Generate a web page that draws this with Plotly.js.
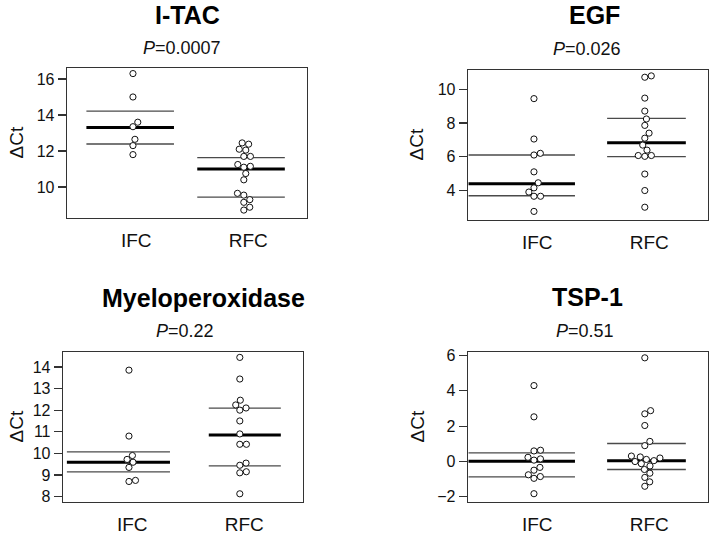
<!DOCTYPE html>
<html>
<head>
<meta charset="utf-8">
<script src="https://cdn.plot.ly/plotly-3.0.1.min.js"></script>
<style>html,body{margin:0;padding:0;background:#fff;}#chart{width:709px;height:536px;}</style>
</head>
<body>
<div id="chart"></div>
<script>
// ---------- data ----------
const categories = ['IFC', 'RFC'];
const panelTitles = ['I-TAC', 'EGF', 'Myeloperoxidase', 'TSP-1'];
const pValues = ['0.0007', '0.026', '0.22', '0.51'];
const yAxisLabel = '\u0394Ct';

const itacIFC = [16.3, 15.0, 13.6, 13.35, 12.65, 12.3, 11.8];
const itacRFC = [12.45, 12.38, 12.1, 12.05, 11.7, 11.7, 11.25, 11.15, 11.1, 10.75, 10.4, 9.65, 9.55, 9.3, 9.15, 8.88, 8.72];
const itacMedian = [13.3, 11.0];
const itacLower = [12.39, 9.44];
const itacUpper = [14.22, 11.63];
const itacTicks = [10, 12, 14, 16];

const egfIFC = [9.45, 7.05, 6.2, 6.1, 5.1, 4.45, 4.15, 3.9, 3.65, 3.65, 2.75];
const egfRFC = [10.8, 10.72, 9.48, 8.71, 8.24, 7.86, 7.4, 7.1, 6.69, 6.39, 6.07, 6.02, 6.07, 4.97, 3.99, 3.0];
const egfMedian = [4.39, 6.83];
const egfLower = [3.68, 6.0];
const egfUpper = [6.1, 8.28];
const egfTicks = [4, 6, 8, 10];

const mpoIFC = [13.85, 10.8, 9.9, 9.72, 9.59, 9.35, 8.75, 8.7];
const mpoRFC = [14.44, 13.44, 12.46, 12.24, 12.1, 12.0, 11.5, 10.9, 10.42, 10.42, 9.55, 9.45, 9.15, 9.1, 8.13];
const mpoMedian = [9.59, 10.85];
const mpoLower = [9.14, 9.42];
const mpoUpper = [10.07, 12.09];
const mpoTicks = [8, 9, 10, 11, 12, 13, 14];

const tspIFC = [4.3, 2.53, 0.64, 0.6, 0.24, 0.15, 0.08, -0.33, -0.49, -0.75, -0.85, -0.95, -1.82];
const tspRFC = [5.87, 2.88, 2.7, 2.04, 1.14, 0.9, 0.31, 0.26, 0.2, 0.12, 0.05, 0.0, -0.12, -0.25, -0.45, -0.66, -0.9, -1.15, -1.4];
const tspMedian = [0.02, 0.05];
const tspLower = [-0.87, -0.45];
const tspUpper = [0.49, 1.02];
const tspTicks = [-2, 0, 2, 4, 6];

// ---------- layout config (positions / styles) ----------
const W = 709, H = 536;
const panels = [
  {groups: [itacIFC, itacRFC], med: itacMedian, lo: itacLower, hi: itacUpper, ticks: itacTicks,
   box: [67, 307, 68, 218], yr: [8.28, 16.61], lineLeft: [0.42, 0.42],
   titleXY: [188, 15], pXY: [182, 48], yLabXY: [15.5, 143]},
  {groups: [egfIFC, egfRFC], med: egfMedian, lo: egfLower, hi: egfUpper, ticks: egfTicks,
   box: [468, 708, 70, 220], yr: [2.24, 11.15], lineLeft: [0.59, 0.34],
   titleXY: [594, 15.5], pXY: [587, 48.5], yLabXY: [416.5, 145]},
  {groups: [mpoIFC, mpoRFC], med: mpoMedian, lo: mpoLower, hi: mpoUpper, ticks: mpoTicks,
   box: [63, 303, 352, 502], yr: [7.75, 14.69], lineLeft: [0.56, 0.28],
   titleXY: [203, 298], pXY: [185, 331], yLabXY: [15.5, 427]},
  {groups: [tspIFC, tspRFC], med: tspMedian, lo: tspLower, hi: tspUpper, ticks: tspTicks,
   box: [468, 708, 352, 502], yr: [-2.29, 6.2], lineLeft: [0.59, 0.34],
   titleXY: [587, 297], pXY: [585, 330.5], yLabXY: [416.5, 427]}
];
const xRange = [0.405, 2.57];
const lineRight = 0.37;
const markerD = 6.6;
const FONT = 'Liberation Sans, Arial, Helvetica, sans-serif';

// simple beeswarm (swarm) offsets computed in pixel space
function swarm(values, pxPerY, pxPerX) {
  const idx = values.map((v, i) => i).sort((a, b) => values[a] - values[b]);
  const placed = [];
  const off = new Array(values.length).fill(0);
  const d = markerD;
  idx.forEach(i => {
    const y = values[i] * pxPerY;
    const cands = [0];
    placed.forEach(q => {
      const dy = Math.abs(y - q.y);
      if (dy < d) {
        const dx = Math.sqrt(d * d - dy * dy);
        cands.push(q.x + dx, q.x - dx);
      }
    });
    const ok = cands.filter(c => placed.every(q => (c - q.x) ** 2 + (y - q.y) ** 2 >= d * d - 1e-6));
    ok.sort((a, b) => Math.abs(a) - Math.abs(b) || b - a);
    const c = ok[0];
    placed.push({x: c, y: y});
    off[i] = c / pxPerX;
  });
  return off;
}

const traces = [];
const layout = {
  width: W, height: H,
  margin: {l: 0, r: 0, t: 0, b: 0},
  paper_bgcolor: '#fff', plot_bgcolor: '#fff',
  showlegend: false,
  font: {family: FONT, color: '#111'},
  annotations: []
};

panels.forEach((p, k) => {
  const n = k + 1;
  const xa = 'x' + (n === 1 ? '' : n), ya = 'y' + (n === 1 ? '' : n);
  const [x0, x1, y0, y1] = p.box;
  const pxPerX = (x1 - x0) / (xRange[1] - xRange[0]);
  const pxPerY = (y1 - y0) / (p.yr[1] - p.yr[0]);

  // summary lines
  const thinX = [], thinY = [], medX = [], medY = [];
  p.groups.forEach((g, gi) => {
    const c = gi + 1;
    const a = c - p.lineLeft[gi], b = c + lineRight;
    thinX.push(a, b, null, a, b, null);
    thinY.push(p.lo[gi], p.lo[gi], null, p.hi[gi], p.hi[gi], null);
    medX.push(a, b, null);
    medY.push(p.med[gi], p.med[gi], null);
  });
  traces.push({type: 'scatter', mode: 'lines', x: thinX, y: thinY, xaxis: xa, yaxis: ya,
    line: {color: '#4a4a4a', width: 1.3}, hoverinfo: 'skip'});
  traces.push({type: 'scatter', mode: 'lines', x: medX, y: medY, xaxis: xa, yaxis: ya,
    line: {color: '#000', width: 3}, hoverinfo: 'skip'});

  // points
  p.groups.forEach((g, gi) => {
    const off = swarm(g, pxPerY, pxPerX);
    traces.push({type: 'scatter', mode: 'markers',
      x: g.map((v, i) => gi + 1 + off[i]), y: g, xaxis: xa, yaxis: ya,
      marker: {symbol: 'circle', size: 6.2, color: '#fff', line: {color: '#111', width: 1}},
      hoverinfo: 'y'});
  });

  const xk = 'xaxis' + (n === 1 ? '' : n), yk = 'yaxis' + (n === 1 ? '' : n);
  layout[xk] = {
    domain: [x0 / W, x1 / W], range: xRange, anchor: ya,
    showline: true, mirror: true, linecolor: '#333', linewidth: 1.3,
    showgrid: false, zeroline: false,
    tickmode: 'array', tickvals: [1.03, 2.04], ticktext: categories,
    ticks: 'outside', ticklen: 5, tickcolor: 'rgba(0,0,0,0)',
    tickfont: {size: 19, family: FONT, color: '#111'}
  };
  layout[yk] = {
    domain: [1 - y1 / H, 1 - y0 / H], range: p.yr, anchor: xa,
    showline: true, mirror: true, linecolor: '#333', linewidth: 1.3,
    showgrid: false, zeroline: false,
    tickmode: 'array', tickvals: p.ticks,
    ticks: 'outside', ticklen: 8, tickwidth: 1.2, tickcolor: '#333',
    tickfont: {size: 16, family: FONT, color: '#111'}
  };

  layout.annotations.push({
    xref: 'paper', yref: 'paper', x: p.titleXY[0] / W, y: 1 - p.titleXY[1] / H,
    xanchor: 'center', yanchor: 'middle', showarrow: false,
    text: '<b>' + panelTitles[k] + '</b>', font: {size: 25, family: FONT, color: '#000'}
  });
  layout.annotations.push({
    xref: 'paper', yref: 'paper', x: p.pXY[0] / W, y: 1 - p.pXY[1] / H,
    xanchor: 'center', yanchor: 'middle', showarrow: false,
    text: '<i>P</i>=' + pValues[k], font: {size: 18, family: FONT, color: '#111'}
  });
  layout.annotations.push({
    xref: 'paper', yref: 'paper', x: p.yLabXY[0] / W, y: 1 - p.yLabXY[1] / H,
    xanchor: 'center', yanchor: 'middle', showarrow: false, textangle: -90,
    text: yAxisLabel, font: {size: 19, family: FONT, color: '#111'}
  });
});

Plotly.newPlot('chart', traces, layout, {staticPlot: true, displayModeBar: false});
</script>
</body>
</html>
